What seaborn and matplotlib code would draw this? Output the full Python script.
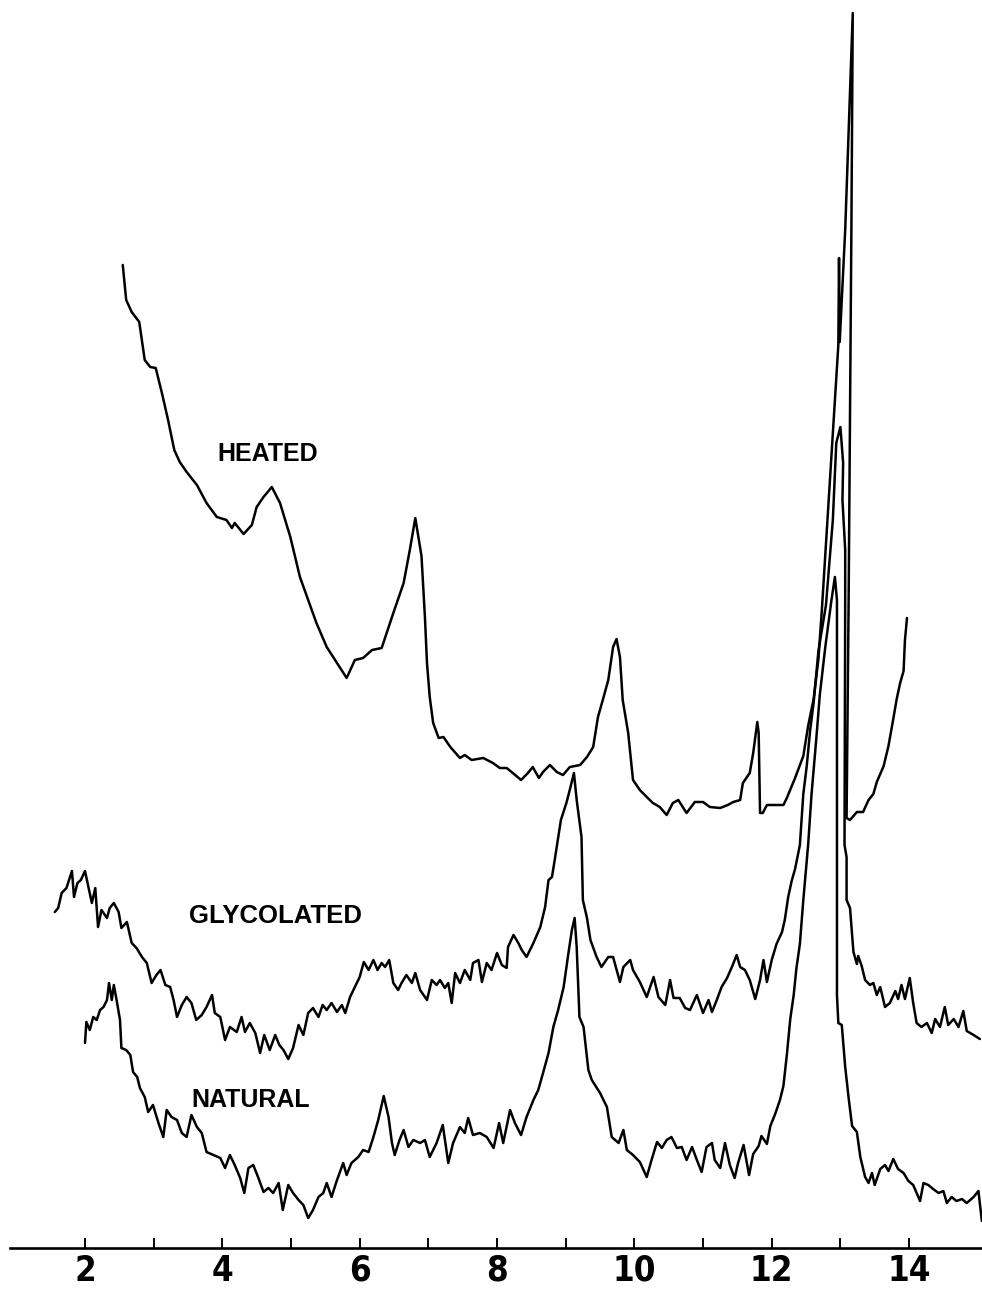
import numpy as np
import pandas as pd
import matplotlib
matplotlib.use("Agg")
import matplotlib.pyplot as plt
import seaborn as sns

# X-ray diffraction traces, degrees 2-theta vs. recorder counts (arbitrary units)
heated_2theta = [
    2.55, 2.60, 2.68, 2.79, 2.87, 2.95, 3.03, 3.12, 3.21, 3.30,
    3.38, 3.48, 3.63, 3.77, 3.92, 4.06, 4.14, 4.18, 4.31, 4.43,
    4.50, 4.60, 4.72, 4.84, 4.99, 5.13, 5.25, 5.37, 5.52, 5.67,
    5.81, 5.93, 6.05, 6.18, 6.32, 6.49, 6.64, 6.73, 6.81, 6.90,
    6.95, 6.98, 7.02, 7.07, 7.15, 7.22, 7.32, 7.46, 7.53, 7.63,
    7.80, 7.94, 8.04, 8.14, 8.23, 8.35, 8.45, 8.52, 8.61, 8.67,
    8.77, 8.87, 8.96, 9.06, 9.21, 9.31, 9.40, 9.47, 9.54, 9.62,
    9.69, 9.74, 9.79, 9.83, 9.91, 9.98, 10.08, 10.18, 10.27, 10.37,
    10.47, 10.56, 10.64, 10.76, 10.88, 11.00, 11.10, 11.25, 11.36, 11.44,
    11.54, 11.58, 11.68, 11.73, 11.79, 11.81, 11.83, 11.87, 11.93, 12.17,
    12.22, 12.34, 12.46, 12.53, 12.61, 12.68, 12.73, 12.97, 12.98, 12.99,
    13.07, 13.18, 13.16, 13.12, 13.09, 13.14, 13.24, 13.33, 13.41, 13.48,
    13.53, 13.63, 13.70, 13.77, 13.82, 13.87, 13.92, 13.94, 13.97,
]
heated_counts = [
    983, 948, 936, 926, 888, 881, 880, 855, 828, 798,
    786, 776, 763, 745, 731, 728, 720, 725, 714, 723,
    741, 751, 761, 745, 711, 671, 648, 625, 601, 585,
    570, 588, 590, 598, 600, 635, 665, 698, 730, 692,
    631, 585, 551, 525, 510, 511, 501, 490, 493, 488,
    490, 485, 480, 480, 475, 468, 475, 481, 470, 476,
    483, 476, 473, 481, 483, 491, 501, 531, 548, 568,
    601, 609, 591, 548, 515, 468, 458, 451, 445, 441,
    433, 445, 448, 435, 446, 446, 441, 440, 443, 446,
    448, 465, 475, 495, 526, 515, 435, 435, 443, 443,
    450, 470, 492, 522, 549, 589, 638, 903, 990, 906,
    1018, 1235, 1018, 648, 430, 428, 436, 436, 448, 454,
    466, 482, 502, 529, 549, 565, 577, 608, 630,
]

glycolated_2theta = [
    1.56, 1.61, 1.66, 1.73, 1.81, 1.84, 1.89, 1.94, 2.00, 2.05,
    2.10, 2.15, 2.19, 2.24, 2.32, 2.36, 2.42, 2.49, 2.53, 2.61,
    2.68, 2.75, 2.83, 2.90, 2.97, 3.04, 3.10, 3.17, 3.24, 3.29,
    3.34, 3.41, 3.48, 3.55, 3.62, 3.70, 3.77, 3.85, 3.89, 3.97,
    4.04, 4.11, 4.21, 4.28, 4.33, 4.40, 4.48, 4.55, 4.61, 4.69,
    4.77, 4.83, 4.89, 4.96, 5.03, 5.11, 5.18, 5.25, 5.32, 5.40,
    5.46, 5.52, 5.59, 5.67, 5.74, 5.79, 5.86, 5.93, 6.00, 6.06,
    6.13, 6.20, 6.26, 6.32, 6.37, 6.43, 6.49, 6.56, 6.61, 6.68,
    6.76, 6.81, 6.88, 6.98, 7.05, 7.12, 7.17, 7.24, 7.29, 7.34,
    7.39, 7.46, 7.53, 7.61, 7.65, 7.73, 7.78, 7.85, 7.92, 8.00,
    8.07, 8.14, 8.16, 8.24, 8.31, 8.36, 8.43, 8.53, 8.63, 8.70,
    8.75, 8.80, 8.84, 8.93, 9.01, 9.07, 9.12, 9.16, 9.23, 9.25,
    9.31, 9.36, 9.45, 9.52, 9.62, 9.69, 9.79, 9.84, 9.94, 9.98,
    10.08, 10.18, 10.28, 10.35, 10.45, 10.52, 10.57, 10.66, 10.74, 10.81,
    10.91, 11.00, 11.08, 11.13, 11.20, 11.27, 11.35, 11.42, 11.49, 11.54,
    11.61, 11.68, 11.76, 11.83, 11.88, 11.93, 12.00, 12.07, 12.15, 12.19,
    12.24, 12.29, 12.34, 12.41, 12.46, 12.51, 12.56, 12.61, 12.68, 12.79,
    12.89, 12.94, 13.00, 13.04, 13.03, 13.07, 13.07, 13.06, 13.09, 13.09,
    13.14, 13.19, 13.24, 13.26, 13.31, 13.36, 13.43, 13.48, 13.53, 13.58,
    13.65, 13.72, 13.80, 13.84, 13.89, 13.94, 14.01, 14.06, 14.11, 14.18,
    14.26, 14.33, 14.38, 14.45, 14.52, 14.57, 14.65, 14.72, 14.79, 14.84,
    14.94, 15.03,
]
glycolated_counts = [
    336, 340, 355, 360, 377, 351, 365, 368, 377, 361,
    345, 360, 321, 338, 330, 340, 345, 336, 320, 326,
    305, 300, 291, 285, 265, 273, 278, 263, 261, 248,
    231, 243, 251, 245, 228, 233, 241, 253, 235, 231,
    208, 221, 216, 231, 216, 225, 215, 195, 213, 198,
    213, 203, 198, 189, 200, 223, 213, 235, 240, 231,
    243, 238, 245, 236, 243, 235, 251, 261, 271, 286,
    278, 288, 278, 285, 281, 288, 265, 258, 265, 273,
    265, 275, 258, 248, 268, 263, 268, 260, 265, 245,
    275, 265, 278, 268, 285, 288, 266, 285, 278, 295,
    283, 280, 301, 313, 305, 298, 291, 305, 321, 341,
    368, 371, 388, 428, 445, 461, 475, 448, 411, 348,
    330, 308, 291, 281, 291, 291, 266, 281, 288, 278,
    266, 251, 271, 251, 243, 268, 250, 250, 240, 238,
    253, 235, 248, 236, 248, 261, 270, 281, 293, 281,
    278, 268, 249, 268, 288, 266, 288, 304, 316, 328,
    351, 367, 379, 403, 454, 482, 518, 545, 597, 643,
    728, 805, 821, 785, 748, 698, 648, 403, 391, 348,
    340, 296, 284, 292, 282, 268, 263, 265, 253, 261,
    241, 245, 257, 249, 263, 249, 270, 245, 225, 221,
    225, 215, 229, 221, 241, 223, 229, 221, 237, 217,
    213, 209,
]

natural_2theta = [
    2.00, 2.02, 2.07, 2.12, 2.17, 2.22, 2.27, 2.32, 2.35, 2.39,
    2.42, 2.46, 2.51, 2.53, 2.60, 2.66, 2.70, 2.76, 2.80, 2.87,
    2.92, 2.99, 3.07, 3.14, 3.19, 3.26, 3.34, 3.41, 3.48, 3.55,
    3.63, 3.70, 3.77, 3.87, 3.97, 4.04, 4.11, 4.18, 4.26, 4.32,
    4.38, 4.45, 4.52, 4.60, 4.67, 4.74, 4.82, 4.88, 4.96, 5.03,
    5.11, 5.18, 5.25, 5.32, 5.40, 5.47, 5.52, 5.59, 5.67, 5.76,
    5.81, 5.88, 5.98, 6.05, 6.13, 6.20, 6.27, 6.35, 6.42, 6.47,
    6.51, 6.58, 6.64, 6.71, 6.78, 6.88, 6.95, 7.02, 7.12, 7.21,
    7.29, 7.36, 7.46, 7.53, 7.58, 7.65, 7.75, 7.85, 7.95, 8.03,
    8.09, 8.19, 8.26, 8.35, 8.43, 8.53, 8.60, 8.67, 8.75, 8.82,
    8.89, 8.97, 9.04, 9.09, 9.13, 9.16, 9.20, 9.26, 9.33, 9.38,
    9.50, 9.60, 9.67, 9.77, 9.84, 9.89, 9.98, 10.08, 10.18, 10.25,
    10.33, 10.40, 10.47, 10.54, 10.62, 10.69, 10.76, 10.84, 10.91, 10.98,
    11.05, 11.13, 11.17, 11.25, 11.32, 11.39, 11.46, 11.51, 11.59, 11.67,
    11.73, 11.81, 11.85, 11.93, 11.98, 12.05, 12.12, 12.17, 12.22, 12.27,
    12.32, 12.36, 12.41, 12.46, 12.53, 12.58, 12.65, 12.70, 12.78, 12.87,
    12.92, 12.95, 12.95, 12.97, 13.02, 13.07, 13.12, 13.17, 13.24, 13.29,
    13.36, 13.41, 13.46, 13.50, 13.58, 13.65, 13.70, 13.77, 13.84, 13.92,
    13.99, 14.06, 14.16, 14.21, 14.28, 14.35, 14.43, 14.50, 14.55, 14.62,
    14.69, 14.77, 14.84, 14.94, 15.01, 15.04, 15.06,
]
natural_counts = [
    205, 226, 218, 231, 228, 238, 241, 248, 265, 248,
    263, 248, 228, 200, 198, 193, 176, 171, 160, 151,
    136, 143, 125, 111, 138, 131, 128, 115, 111, 133,
    121, 115, 96, 93, 90, 80, 93, 83, 70, 55,
    80, 83, 71, 56, 60, 55, 65, 38, 63, 55,
    48, 43, 30, 38, 51, 55, 65, 51, 68, 85,
    73, 85, 91, 98, 96, 111, 128, 152, 131, 105,
    93, 108, 118, 101, 108, 105, 108, 91, 105, 123,
    85, 105, 121, 115, 130, 113, 115, 111, 100, 125,
    105, 138, 125, 113, 131, 148, 158, 175, 195, 221,
    238, 261, 295, 318, 330, 301, 231, 221, 178, 168,
    155, 141, 111, 105, 118, 98, 93, 86, 71, 88,
    106, 100, 108, 111, 100, 101, 88, 101, 88, 76,
    101, 105, 88, 80, 105, 83, 70, 85, 103, 73,
    94, 102, 112, 104, 122, 134, 148, 162, 193, 229,
    253, 280, 304, 348, 403, 454, 510, 553, 601, 648,
    671, 648, 253, 225, 223, 181, 150, 122, 116, 91,
    71, 65, 75, 63, 79, 83, 77, 89, 79, 75,
    67, 63, 47, 65, 63, 59, 55, 57, 45, 51,
    47, 49, 45, 51, 57, 39, 27,
]

trace_names = ["HEATED", "GLYCOLATED", "NATURAL"]
major_ticks = [2, 4, 6, 8, 10, 12, 14]
minor_ticks = [3, 5, 7, 9, 11, 13]

frames = []
for name, xs, ys in zip(trace_names,
                        [heated_2theta, glycolated_2theta, natural_2theta],
                        [heated_counts, glycolated_counts, natural_counts]):
    part = pd.DataFrame({"two_theta": xs, "counts": ys})
    part["sample"] = name
    frames.append(part)
df = pd.concat(frames, ignore_index=True)

sns.set_style("white")
plt.rcParams["text.color"] = "black"

fig = plt.figure(figsize=(9.82, 12.93), dpi=100)
ax = fig.add_axes([10 / 982, 45 / 1293, 972 / 982, 1248 / 1293])

sns.lineplot(data=df, x="two_theta", y="counts", units="sample",
             estimator=None, sort=False, color="black", linewidth=1.8, ax=ax)

ax.set_xlim(0.908, 15.062)
ax.set_ylim(0, 1248)

for side in ["left", "top", "right"]:
    ax.spines[side].set_visible(False)
ax.spines["bottom"].set_linewidth(1.9)
ax.spines["bottom"].set_color("black")

ax.set_xticks(major_ticks)
ax.set_xticks(minor_ticks, minor=True)
ax.set_yticks([])
ax.tick_params(axis="x", which="both", direction="in", length=7.5, width=1.4,
               colors="black", bottom=True)
ax.tick_params(axis="x", which="major", pad=4)
ax.set_xticklabels([str(t) for t in major_ticks])
for lab in ax.get_xticklabels():
    lab.set_fontfamily(["Liberation Sans Narrow", "DejaVu Sans"])
    lab.set_fontstretch("condensed")
    lab.set_fontweight("bold")
    lab.set_fontsize(25)
    lab.set_color("black")
ax.set_xlabel("")
ax.set_ylabel("")
if ax.get_legend() is not None:
    ax.get_legend().remove()

label_pos = {"HEATED": (4.66, 794), "GLYCOLATED": (4.78, 332), "NATURAL": (4.42, 148)}
label_size = {"HEATED": 18, "GLYCOLATED": 18.5, "NATURAL": 18}
for name in trace_names:
    lx, ly = label_pos[name]
    ax.text(lx, ly, name, ha="center", va="center", fontsize=label_size[name],
            fontweight="bold", color="black",
            family=["Liberation Sans", "DejaVu Sans"])

fig.savefig("out.png", dpi=100)
